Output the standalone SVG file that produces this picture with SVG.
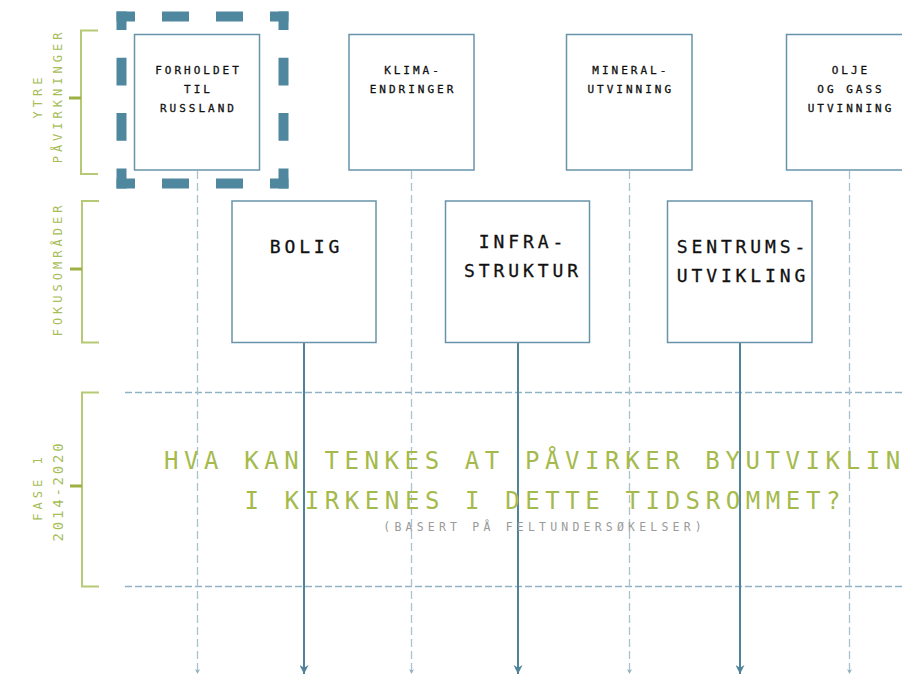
<svg xmlns="http://www.w3.org/2000/svg" width="902" height="674" viewBox="0 0 902 674">
<defs>
<style>
.box{fill:#fff;stroke:#6794aa;stroke-width:1.5}
.t{font-family:"DejaVu Sans Mono","Liberation Mono",monospace;fill:#111;stroke:#111;stroke-width:0.3;text-anchor:middle}
.ts{font-size:11px;letter-spacing:3px}
.tm{font-size:18px;letter-spacing:3.9px}
.lab{font-family:"DejaVu Sans Mono","Liberation Mono",monospace;fill:#a7bd58;text-anchor:middle;font-size:12px;letter-spacing:4px}
.br{fill:none;stroke:#b6c974;stroke-width:2}
.tick{stroke:#9cb043;stroke-width:3}
.dv{stroke:#a9c2ce;stroke-width:1.3;stroke-dasharray:8 4;fill:none}
.dh{stroke:#91b2c2;stroke-width:1.3;stroke-dasharray:7 3;fill:none}
.sv{stroke:#4f8399;stroke-width:2;fill:none}
.frame{stroke:#4f879e;stroke-width:10;fill:none}
.q{font-family:"DejaVu Sans Mono","Liberation Mono",monospace;font-size:24px;letter-spacing:5.6px;fill:#a5ba4c}
</style>
<marker id="ah" viewBox="0 0 10 10" refX="10" refY="5" markerWidth="10" markerHeight="9" markerUnits="userSpaceOnUse" orient="auto">
<path d="M0,0 L10,5 L0,10 L3,5 z" fill="#4f8399"/>
</marker>
<marker id="ahs" viewBox="0 0 10 10" refX="10" refY="5" markerWidth="5" markerHeight="5" markerUnits="userSpaceOnUse" orient="auto">
<path d="M0,0 L10,5 L0,10 L3,5 z" fill="#8fb0c0"/>
</marker>
</defs>
<rect width="902" height="674" fill="#fff"/>

<g id="side-labels">
<g id="bracket-ytre">
<path class="br" d="M98,30.5 H81 V174 H98"/>
<line class="tick" x1="69" y1="98" x2="81" y2="98"/>
<text class="lab" transform="translate(42,96) rotate(-90)">YTRE</text>
<text class="lab" transform="translate(61.5,96) rotate(-90)">PÅVIRKNINGER</text>
</g>
<g id="bracket-fokus">
<path class="br" d="M99,201 H82 V342.5 H99"/>
<line class="tick" x1="70" y1="269" x2="82" y2="269"/>
<text class="lab" transform="translate(62,269) rotate(-90)">FOKUSOMRÅDER</text>
</g>
<g id="bracket-fase">
<path class="br" d="M99,392.5 H82 V586.5 H99"/>
<line class="tick" x1="70" y1="486" x2="82" y2="486"/>
<text class="lab" transform="translate(41.5,487) rotate(-90)">FASE 1</text>
<text class="lab" style="font-size:14px;letter-spacing:2.8px" transform="translate(62.5,491) rotate(-90)">2014-2020</text>
</g>
</g>

<g id="connectors">
<line class="dh" x1="125" y1="392.5" x2="902" y2="392.5"/>
<line class="dh" x1="125" y1="586.5" x2="902" y2="586.5"/>
<line class="dv" x1="197.5" y1="171" x2="197.5" y2="674" marker-end="url(#ahs)"/>
<line class="dv" x1="411.5" y1="171" x2="411.5" y2="674" marker-end="url(#ahs)"/>
<line class="dv" x1="629.5" y1="171" x2="629.5" y2="674" marker-end="url(#ahs)"/>
<line class="dv" x1="849.5" y1="171" x2="849.5" y2="674" marker-end="url(#ahs)"/>
<line class="sv" x1="304" y1="343" x2="304" y2="674" marker-end="url(#ah)"/>
<line class="sv" x1="518" y1="343" x2="518" y2="674" marker-end="url(#ah)"/>
<line class="sv" x1="740" y1="343" x2="740" y2="674" marker-end="url(#ah)"/>
</g>

<g id="node-russland">
<line class="frame" x1="116.5" y1="16.5" x2="288.5" y2="16.5" stroke-dasharray="27 27" stroke-dashoffset="8.5"/>
<line class="frame" x1="116.5" y1="183.5" x2="288.5" y2="183.5" stroke-dasharray="27 27" stroke-dashoffset="8.5"/>
<line class="frame" x1="121.5" y1="11.5" x2="121.5" y2="188.5" stroke-dasharray="27.7 27.7" stroke-dashoffset="9.2"/>
<line class="frame" x1="283.5" y1="11.5" x2="283.5" y2="188.5" stroke-dasharray="27.7 27.7" stroke-dashoffset="9.2"/>
<rect class="box" x="134.5" y="34.5" width="125" height="135.5"/>
<text class="t ts" x="198.5" y="74">FORHOLDET</text>
<text class="t ts" x="198.5" y="92.7">TIL</text>
<text class="t ts" x="198.5" y="111.7">RUSSLAND</text>
</g>
<g id="node-klima">
<rect class="box" x="349" y="34.5" width="125" height="135.5"/>
<text class="t ts" x="413" y="74">KLIMA-</text>
<text class="t ts" x="413" y="92.7">ENDRINGER</text>
</g>
<g id="node-mineral">
<rect class="box" x="566.5" y="34.5" width="125.5" height="135.5"/>
<text class="t ts" x="630.8" y="74">MINERAL-</text>
<text class="t ts" x="630.8" y="92.7">UTVINNING</text>
</g>
<g id="node-olje">
<rect class="box" x="786.5" y="34.5" width="126" height="135.5"/>
<text class="t ts" x="851" y="74">OLJE</text>
<text class="t ts" x="851" y="92.7">OG GASS</text>
<text class="t ts" x="851" y="111.7">UTVINNING</text>
</g>

<g id="node-bolig">
<rect class="box" x="232" y="201" width="144" height="141.5"/>
<text class="t tm" x="306.5" y="253.3">BOLIG</text>
</g>
<g id="node-infra">
<rect class="box" x="445.5" y="201" width="144" height="141.5"/>
<text class="t tm" x="523" y="248.3">INFRA-</text>
<text class="t tm" x="523" y="277.3">STRUKTUR</text>
</g>
<g id="node-sentrum">
<rect class="box" x="667.5" y="201" width="144.5" height="141.5"/>
<text class="t tm" x="743" y="253.3">SENTRUMS-</text>
<text class="t tm" x="743" y="282.3">UTVIKLING</text>
</g>

<g id="question">
<text class="q" x="164" y="469.3">HVA KAN TENKES AT PÅVIRKER BYUTVIKLI<tspan style="letter-spacing:0">N</tspan></text>
<text class="q" x="244.5" y="509.3">I KIRKENES I DETTE TIDSROMMET?</text>
<text x="544.6" y="531" style="font-family:'DejaVu Sans Mono','Liberation Mono',monospace;font-size:11.5px;letter-spacing:4.2px;fill:#9a9a9a;text-anchor:middle">(BASERT PÅ FELTUNDERSØKELSER)</text>
</g>
</svg>
